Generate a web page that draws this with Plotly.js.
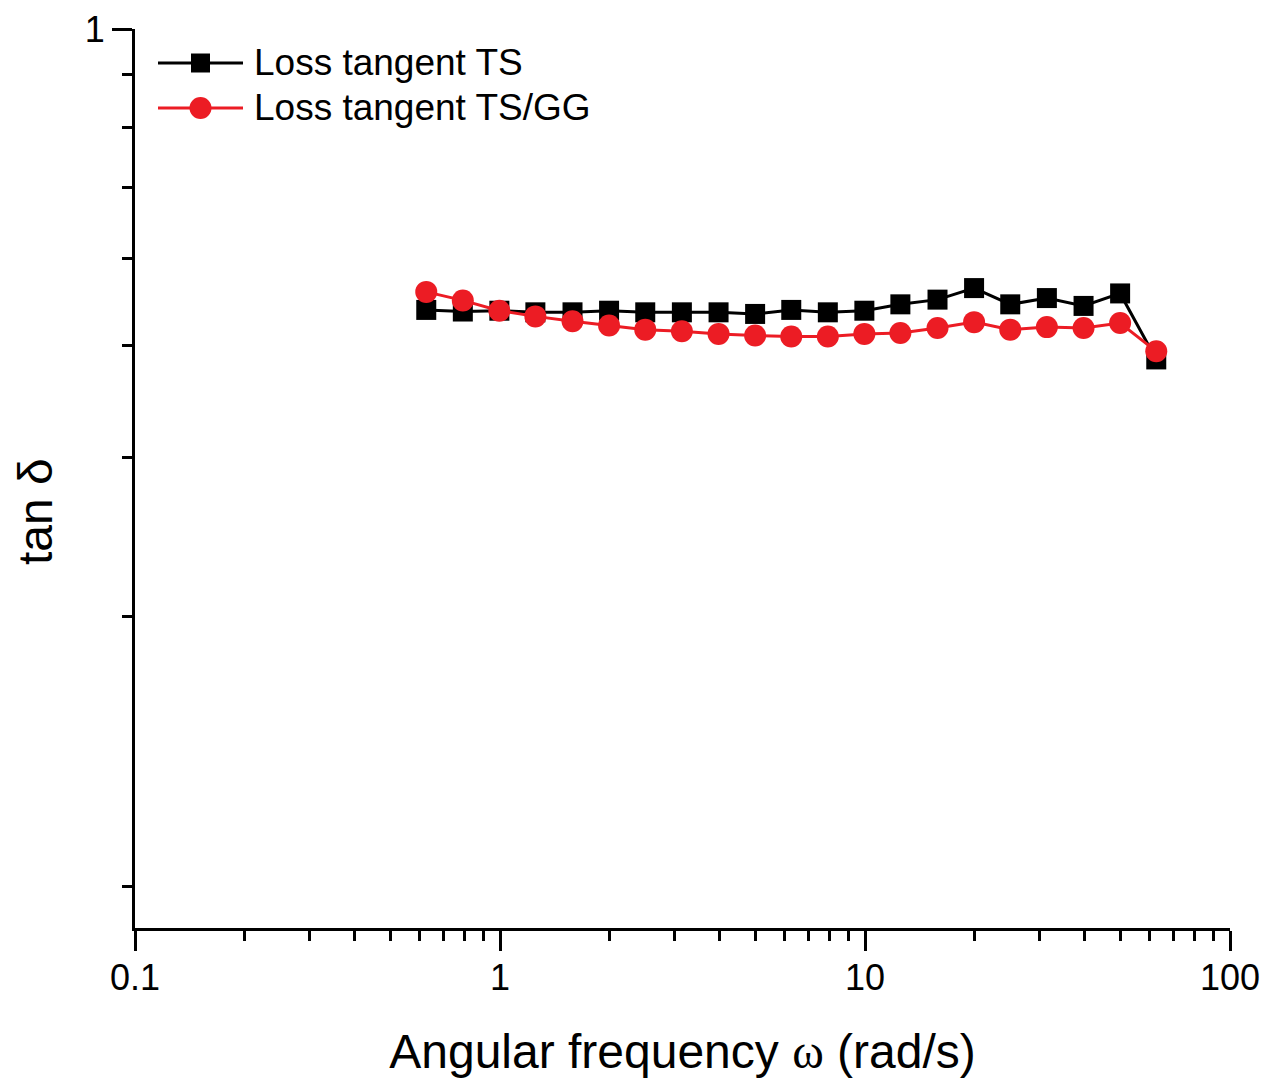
<!DOCTYPE html>
<html>
<head>
<meta charset="utf-8">
<script src="https://cdn.plot.ly/plotly-3.0.1.min.js"></script>
<style>
  html, body { margin: 0; padding: 0; background: #ffffff; }
  #chart { width: 1273px; height: 1079px; }
</style>
</head>
<body>
<div id="chart"></div>
<script>
// Angular frequency (rad/s)
const omega = [0.628, 0.791, 0.996, 1.25, 1.58, 1.99, 2.5, 3.15, 3.97, 5.0, 6.28,
               7.91, 9.96, 12.5, 15.8, 19.9, 25.0, 31.5, 39.7, 50.0, 62.8];
// Loss tangent TS
const tanTS = [0.487, 0.485, 0.486, 0.484, 0.484, 0.486, 0.484, 0.484, 0.484, 0.482, 0.487,
               0.484, 0.486, 0.494, 0.500, 0.515, 0.494, 0.502, 0.492, 0.508, 0.429];
// Loss tangent TS/GG
const tanTSGG = [0.510, 0.499, 0.486, 0.479, 0.473, 0.468, 0.463, 0.461, 0.458, 0.456, 0.455,
                 0.455, 0.458, 0.459, 0.465, 0.472, 0.463, 0.466, 0.465, 0.471, 0.438];

const seriesNames = ["Loss tangent TS", "Loss tangent TS/GG"];
const xTickVals = [0.1, 1, 10, 100];
const xTickText = ["0.1", "1", "10", "100"];
const xMinorVals = [];
[0.1, 1, 10].forEach(d => { for (let k = 2; k <= 9; k++) xMinorVals.push(d * k); });
const yTickVals = [1];
const yTickText = ["1"];
const yMinorVals = [8/9, 7/9, 6/9, 5/9, 4/9, 3/9, 2/9, 1/9];

const FONT = "Liberation Sans, Arial, sans-serif";
const RED = "#ec1c24";
const seriesColors = ["#000000", RED];

const traces = [
  {
    x: omega, y: tanTS, name: seriesNames[0], type: "scatter", mode: "lines+markers",
    line: { color: seriesColors[0], width: 3 },
    marker: { symbol: "square", size: 20, color: seriesColors[0] }
  },
  {
    x: omega, y: tanTSGG, name: seriesNames[1], type: "scatter", mode: "lines+markers",
    line: { color: seriesColors[1], width: 3 },
    marker: { symbol: "circle", size: 22, color: seriesColors[1] }
  }
];

// plot area in pixels (for the hand-built legend, which sits in paper coordinates)
const L = 135, R = 43, T = 29, B = 151, W = 1273, H = 1079;
const pw = W - L - R, ph = H - T - B;
const px = v => (v - L) / pw;
const py = v => (H - B - v) / ph;

const legendRows = [63, 108];
const shapes = [];
const annotations = [];
seriesNames.forEach((name, i) => {
  const yy = py(legendRows[i]);
  shapes.push({ type: "line", xref: "paper", yref: "paper", x0: px(158), x1: px(243), y0: yy, y1: yy,
                line: { color: seriesColors[i], width: 3 } });
  if (i === 0) {
    shapes.push({ type: "rect", xref: "paper", yref: "paper",
                  x0: px(191), x1: px(210), y0: py(legendRows[i] + 9.5), y1: py(legendRows[i] - 9.5),
                  fillcolor: seriesColors[i], line: { width: 0 } });
  } else {
    shapes.push({ type: "circle", xref: "paper", yref: "paper",
                  x0: px(189.5), x1: px(211.5), y0: py(legendRows[i] + 11), y1: py(legendRows[i] - 11),
                  fillcolor: seriesColors[i], line: { width: 0 } });
  }
  annotations.push({ xref: "paper", yref: "paper", x: px(252), y: yy, xanchor: "left", yanchor: "middle",
                     text: name, showarrow: false,
                     font: { family: FONT, size: 37, color: "#000000" } });
});
// y-axis title
annotations.push({ xref: "paper", yref: "paper", x: px(35), y: py(512), xanchor: "center", yanchor: "middle",
                   text: "tan δ", textangle: -90, showarrow: false,
                   font: { family: FONT, size: 48, color: "#000000" } });

const axisCommon = {
  type: "log",
  showgrid: false, zeroline: false,
  showline: true, linecolor: "#000000", linewidth: 3,
  ticks: "outside", ticklen: 20, tickwidth: 3, tickcolor: "#000000",
  tickmode: "array",
  tickfont: { family: FONT, size: 36, color: "#000000" }
};

const layout = {
  width: W, height: H,
  paper_bgcolor: "#ffffff", plot_bgcolor: "#ffffff",
  margin: { l: L, r: R, t: T, b: B },
  showlegend: false,
  shapes: shapes,
  annotations: annotations,
  xaxis: Object.assign({}, axisCommon, {
    range: [-1, 2],
    tickvals: xTickVals, ticktext: xTickText,
    ticklabelstandoff: -4,
    minor: { tickmode: "array", tickvals: xMinorVals, ticks: "outside", ticklen: 10, tickwidth: 3, tickcolor: "#000000" },
    title: { text: "Angular frequency <span style=\"font-family:Liberation Serif\">ω</span> (rad/s)",
             font: { family: FONT, size: 48, color: "#000000" }, standoff: 38 }
  }),
  yaxis: Object.assign({}, axisCommon, {
    range: [-1, 0],
    tickvals: yTickVals, ticktext: yTickText,
    minor: { tickmode: "array", tickvals: yMinorVals, ticks: "outside", ticklen: 10, tickwidth: 3, tickcolor: "#000000" }
  })
};

Plotly.newPlot("chart", traces, layout, { displayModeBar: false, staticPlot: true });
</script>
</body>
</html>
